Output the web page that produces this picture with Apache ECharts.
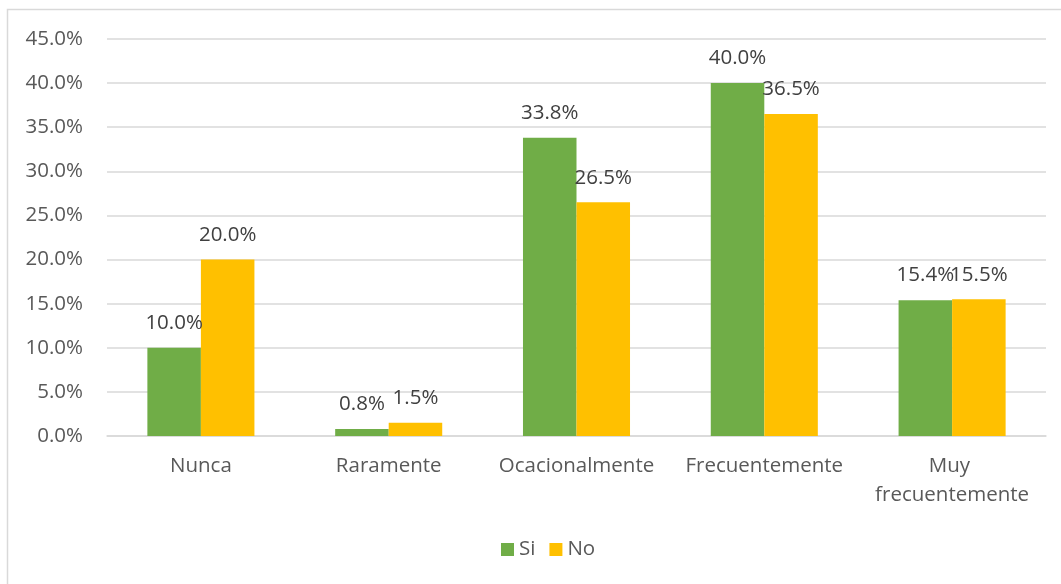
<!DOCTYPE html>
<html>
<head>
<meta charset="utf-8">
<script src="https://cdn.jsdelivr.net/npm/echarts@6/dist/echarts.min.js"></script>
<style>
html,body{margin:0;padding:0;background:#fff;}
#c{width:1061px;height:584px;}
</style>
</head>
<body>
<div id="c"></div>
<script>
const categories = ['Nunca', 'Raramente', 'Ocacionalmente', 'Frecuentemente', 'Muy frecuentemente'];
const seriesNames = ['Si', 'No'];
const siValues = [10.0, 0.8, 33.8, 40.0, 15.4];
const noValues = [20.0, 1.5, 26.5, 36.5, 15.5];
const yTicks = { min: 0, max: 45, interval: 5 };

const FONT = '"Open Sans", "Noto Sans", sans-serif';
const TXT = '#595959';
const FS = 20.5;
const chart = echarts.init(document.getElementById('c'), null, { renderer: 'canvas' });

function labelCfg() {
  return {
    show: true,
    position: 'top',
    distance: 14,
    color: '#404040',
    fontFamily: FONT,
    fontSize: FS,
    formatter: p => p.value.toFixed(1) + '%'
  };
}

chart.setOption({
  backgroundColor: '#fff',
  animation: false,
  graphic: [{
    type: 'rect',
    shape: { x: 7.5, y: 9.5, width: 1200, height: 800 },
    style: { fill: 'none', stroke: '#d9d9d9', lineWidth: 1.5 },
    silent: true
  }],
  legend: {
    data: seriesNames,
    bottom: 19,
    left: 496,
    itemWidth: 13,
    itemHeight: 13,
    itemGap: 14,
    icon: 'rect',
    textStyle: { color: TXT, fontFamily: FONT, fontSize: FS }
  },
  grid: { left: 107, right: 15, top: 39, bottom: 148 },
  xAxis: {
    type: 'category',
    data: categories,
    axisLine: { lineStyle: { color: '#d9d9d9', width: 1.5 } },
    axisTick: { show: false },
    axisLabel: {
      color: TXT, fontFamily: FONT, fontSize: FS, margin: 16,
      lineHeight: 29, width: 182, overflow: 'break', interval: 0
    }
  },
  yAxis: {
    type: 'value',
    min: yTicks.min, max: yTicks.max, interval: yTicks.interval,
    axisLine: { show: false },
    axisTick: { show: false },
    splitLine: { lineStyle: { color: '#d9d9d9', width: 1.5 } },
    axisLabel: {
      color: TXT, fontFamily: FONT, fontSize: FS, margin: 24,
      formatter: v => v.toFixed(1) + '%'
    }
  },
  series: [
    { name: seriesNames[0], type: 'bar', data: siValues, barGap: '0%', barCategoryGap: '43%',
      itemStyle: { color: '#70AD47' }, label: labelCfg() },
    { name: seriesNames[1], type: 'bar', data: noValues, barGap: '0%', barCategoryGap: '43%',
      itemStyle: { color: '#FFC000' }, label: labelCfg() }
  ]
});
</script>
</body>
</html>
